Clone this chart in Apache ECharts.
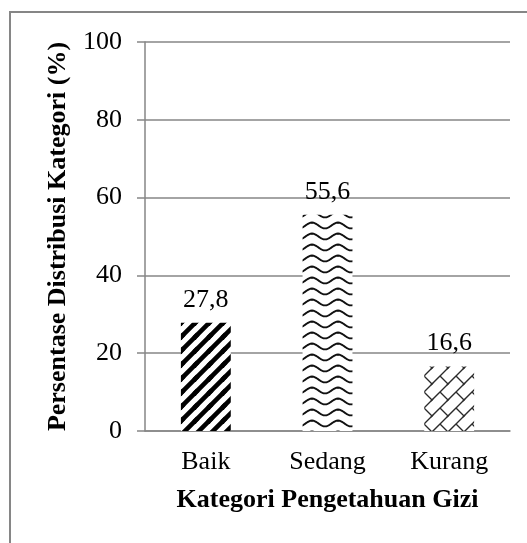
<!DOCTYPE html>
<html>
<head>
<meta charset="utf-8">
<script src="https://cdn.jsdelivr.net/npm/echarts@6/dist/echarts.min.js"></script>
<style>
  html, body { margin: 0; padding: 0; background: #fff; }
  #chart { width: 527px; height: 543px; }
</style>
</head>
<body>
<div id="chart"></div>
<script>
// Knowledge categories and the share of respondents in each (%)
const categories = ['Baik', 'Sedang', 'Kurang'];
const values = [27.8, 55.6, 16.6];
const yTicks = [0, 20, 40, 60, 80, 100];

const FONT = '"Liberation Serif", "Times New Roman", serif';
const AXIS_GREY = '#868686';

// Build a repeating tile; draw() is called for the tile and its 8 neighbours so edges wrap
function makeTile(w, h, draw) {
  const c = document.createElement('canvas');
  c.width = w; c.height = h;
  const ctx = c.getContext('2d');
  ctx.fillStyle = '#fff';
  ctx.fillRect(0, 0, w, h);
  for (let dx = -w; dx <= w; dx += w) {
    for (let dy = -h; dy <= h; dy += h) {
      ctx.save();
      ctx.translate(dx, dy);
      draw(ctx, w, h);
      ctx.restore();
    }
  }
  return c;
}

// Wide diagonal stripes
const stripeTile = makeTile(14, 14, (ctx, w, h) => {
  ctx.strokeStyle = '#000';
  ctx.lineWidth = 4.6;
  ctx.beginPath();
  ctx.moveTo(-2, h + 2);
  ctx.lineTo(w + 2, -2);
  ctx.stroke();
});

// Horizontal waves
const waveTile = makeTile(26, 11, (ctx, w, h) => {
  ctx.strokeStyle = '#111';
  ctx.lineWidth = 1.9;
  ctx.beginPath();
  for (let x = -1; x <= w + 1; x += 0.5) {
    const y = h / 2 - 2.9 * Math.cos(2 * Math.PI * x / w);
    if (x === -1) ctx.moveTo(x, y); else ctx.lineTo(x, y);
  }
  ctx.stroke();
});

// Diagonal brick
const brickTile = makeTile(16, 16, (ctx, w, h) => {
  ctx.strokeStyle = '#2a2a2a';
  ctx.lineWidth = 1.4;
  ctx.beginPath();
  ctx.moveTo(-1, h + 1);
  ctx.lineTo(w + 1, -1);
  ctx.moveTo(w / 2, h / 2);
  ctx.lineTo(w, h);
  ctx.stroke();
});

const patterns = [stripeTile, waveTile, brickTile];

const chart = echarts.init(document.getElementById('chart'), null, { renderer: 'canvas' });

chart.setOption({
  animation: false,
  backgroundColor: '#fff',
  textStyle: { fontFamily: FONT },
  graphic: [{
    type: 'rect',
    shape: { x: 10, y: 12, width: 700, height: 700 },
    style: { fill: 'none', stroke: AXIS_GREY, lineWidth: 2 },
    silent: true,
    z: -1
  }],
  grid: { left: 145, right: 17, top: 42, bottom: 112, containLabel: false },
  xAxis: {
    type: 'category',
    data: categories,
    name: 'Kategori Pengetahuan Gizi',
    nameLocation: 'middle',
    nameGap: 56,
    nameTextStyle: { fontFamily: FONT, fontSize: 26, fontWeight: 'bold', color: '#000' },
    axisLine: { show: true, lineStyle: { color: AXIS_GREY, width: 1.5 } },
    axisTick: { show: false },
    axisLabel: { fontFamily: FONT, fontSize: 26, color: '#000', margin: 18 }
  },
  yAxis: {
    type: 'value',
    min: yTicks[0],
    max: yTicks[yTicks.length - 1],
    interval: yTicks[1] - yTicks[0],
    name: 'Persentase Distribusi Kategori (%)',
    nameLocation: 'middle',
    nameGap: 74,
    nameTextStyle: { fontFamily: FONT, fontSize: 26, fontWeight: 'bold', color: '#000' },
    axisLine: { show: true, lineStyle: { color: AXIS_GREY, width: 1.5 } },
    axisTick: { show: true, length: 8, lineStyle: { color: AXIS_GREY, width: 1.5 } },
    axisLabel: { fontFamily: FONT, fontSize: 26, color: '#000', margin: 23 },
    splitLine: { show: true, lineStyle: { color: AXIS_GREY, width: 1.5 } }
  },
  series: [{
    type: 'bar',
    barWidth: '41%',
    data: values.map((v, i) => ({
      value: v,
      itemStyle: { color: { image: patterns[i], repeat: 'repeat' } }
    })),
    label: {
      show: true,
      position: 'top',
      distance: 10,
      fontFamily: FONT,
      fontSize: 26,
      color: '#000',
      formatter: p => String(p.value).replace('.', ',')
    }
  }]
});
</script>
</body>
</html>
